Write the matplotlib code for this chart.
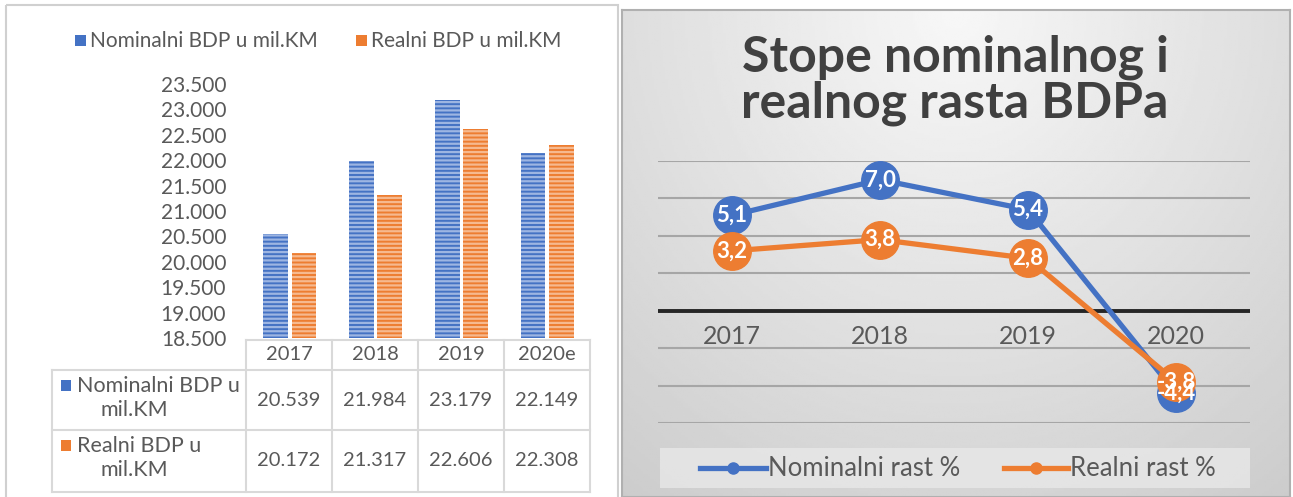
import numpy as np
import matplotlib
matplotlib.use('Agg')
import matplotlib.pyplot as plt
from matplotlib.patches import Rectangle
from matplotlib.lines import Line2D

plt.rcParams['font.family'] = ['Lato', 'DejaVu Sans']
plt.rcParams['hatch.linewidth'] = 1.6

# Data
years = ['2017', '2018', '2019', '2020e']
nominal_bdp = [20539, 21984, 23179, 22149]
real_bdp = [20172, 21317, 22606, 22308]
bdp_labels = ['Nominalni BDP u mil.KM', 'Realni BDP u mil.KM']
bdp_ticks = [18500, 19000, 19500, 20000, 20500, 21000, 21500, 22000, 22500, 23000, 23500]

rate_years = ['2017', '2018', '2019', '2020']
nominal_rate = [5.1, 7.0, 5.4, -4.4]
real_rate = [3.2, 3.8, 2.8, -3.8]
rate_labels = ['Nominalni rast %', 'Realni rast %']
title = 'Stope nominalnog i\nrealnog rasta BDPa'

BLUE, BLUE_L = '#4472C4', '#9DB5E2'
ORANGE, ORANGE_L = '#ED7D31', '#F6B98F'
TXT = '#595959'

W, H = 1293, 497


def box(x0, y0, x1, y1):
    return [x0 / W, 1 - y1 / H, (x1 - x0) / W, (y1 - y0) / H]


def fmt(v):
    return f"{v:,.0f}".replace(',', '.')


fig = plt.figure(figsize=(W / 100, H / 100), dpi=100)
fig.patch.set_facecolor('white')

# background for right panel (radial gray gradient)
bg = fig.add_axes(box(622, 10, 1290, 497))
yy, xx = np.mgrid[0:1:200j, 0:1:300j]
d = np.sqrt(((xx - 0.5) * 1.2) ** 2 + (yy * 0.8) ** 2)
shade = 0.97 - 0.17 * np.clip(d, 0, 1.2)
bg.imshow(shade, cmap='gray', vmin=0, vmax=1, aspect='auto', extent=[0, 1, 1, 0])
bg.set_xticks([])
bg.set_yticks([])
for s in bg.spines.values():
    s.set_color('#b0b0b0')
    s.set_linewidth(1.5)

# overlay in pixel coords
ov = fig.add_axes([0, 0, 1, 1], zorder=5)
ov.set_xlim(0, W)
ov.set_ylim(H, 0)
ov.axis('off')
ov.patch.set_alpha(0)

# left panel frame
ov.add_patch(Rectangle((6, 5), 612, 500, fill=False, ec='#d0d0d0', lw=1.5))

# ---- left: bar chart
ax = fig.add_axes(box(247, 84, 590, 338))
x = np.arange(len(years))
ax.bar(x - 0.165, nominal_bdp, width=0.29, color=BLUE, edgecolor=BLUE_L,
       hatch='----', linewidth=0)
ax.bar(x + 0.165, real_bdp, width=0.29, color=ORANGE, edgecolor=ORANGE_L,
       hatch='----', linewidth=0)
ax.set_ylim(bdp_ticks[0], bdp_ticks[-1])
ax.set_xlim(-0.5, len(years) - 0.5)
ax.set_yticks(bdp_ticks)
ax.set_yticklabels([fmt(t) for t in bdp_ticks], fontsize=15, color=TXT)
ax.set_xticks([])
ax.tick_params(axis='y', length=0, pad=15)
for s in ax.spines.values():
    s.set_visible(False)

# legend on top
for lx, lab, col in [(75, bdp_labels[0], BLUE), (356, bdp_labels[1], ORANGE)]:
    ov.add_patch(Rectangle((lx, 35), 11, 11, fc=col, ec='none'))
    ov.text(lx + 15, 41, lab, fontsize=15, color=TXT, va='center', ha='left')

# data table
cols = [246, 332, 418, 504, 590]
grid = '#d9d9d9'
ov.plot([246, 590], [340, 340], color=grid, lw=1.5)
for yl in [370, 430, 492]:
    ov.plot([52, 590], [yl, yl], color=grid, lw=1.5)
for xl in cols:
    ov.plot([xl, xl], [340, 492], color=grid, lw=1.5)
ov.plot([52, 52], [370, 492], color=grid, lw=1.5)
for i, yr in enumerate(years):
    cx = (cols[i] + cols[i + 1]) / 2
    ov.text(cx, 355, yr, fontsize=14.5, color=TXT, ha='center', va='center')
    ov.text(cx, 400, fmt(nominal_bdp[i]), fontsize=14.5, color=TXT, ha='center', va='center')
    ov.text(cx, 461, fmt(real_bdp[i]), fontsize=14.5, color=TXT, ha='center', va='center')
for ry, lab, col in [(386, bdp_labels[0], BLUE), (446, bdp_labels[1], ORANGE)]:
    first, second = lab.rsplit(' ', 1)
    ov.add_patch(Rectangle((61, ry - 6), 10, 11, fc=col, ec='none'))
    ov.text(77, ry, first, fontsize=15.5, color=TXT, ha='left', va='center')
    ov.text(134, ry + 24, second, fontsize=15.5, color=TXT, ha='center', va='center')

# ---- right: line chart
ax2 = fig.add_axes(box(658, 161, 1250, 423))
ax2.patch.set_alpha(0)
xr = np.arange(len(rate_years))
for yg in range(-6, 9, 2):
    if yg == 0:
        continue
    ax2.axhline(yg, color='#a6a6a6', lw=1.5, zorder=1)
ax2.axhline(0, color='#262626', lw=2.8, zorder=2)
ax2.plot(xr, nominal_rate, color=BLUE, lw=3.8, marker='o', ms=27,
         mfc=BLUE, mec=BLUE, zorder=3)
ax2.plot(xr, real_rate, color=ORANGE, lw=3.8, marker='o', ms=27,
         mfc=ORANGE, mec=ORANGE, zorder=4)
for xi, v in zip(xr, nominal_rate):
    ax2.text(xi, v, f"{v:.1f}".replace('.', ','), color='white', fontsize=16,
             fontweight='bold', ha='center', va='center', zorder=6)
for xi, v in zip(xr, real_rate):
    ax2.text(xi, v, f"{v:.1f}".replace('.', ','), color='white', fontsize=16,
             fontweight='bold', ha='center', va='center', zorder=6)
for xi, yr in zip(xr, rate_years):
    ax2.text(xi, -1.4, yr, color=TXT, fontsize=18, ha='center', va='center', zorder=5)
ax2.set_xlim(-0.5, len(rate_years) - 0.5)
ax2.set_ylim(-6, 8)
ax2.axis('off')

ov.text(955, 80, title, fontsize=36, fontweight='bold', color='#404040',
        ha='center', va='center', linespacing=1.0)

# legend box
ov.add_patch(Rectangle((660, 448), 590, 40, fc='#e8e8e8', ec='none', alpha=0.8))
for lx0, lx1, lab, col in [(700, 766, rate_labels[0], BLUE), (1004, 1068, rate_labels[1], ORANGE)]:
    ov.add_line(Line2D([lx0, lx1], [468, 468], color=col, lw=3.8))
    ov.plot([(lx0 + lx1) / 2], [468], marker='o', ms=8, color=col)
    ov.text(lx1 + 2, 468, lab, fontsize=18.5, color=TXT, ha='left', va='center')

fig.savefig('out.png', dpi=100)
